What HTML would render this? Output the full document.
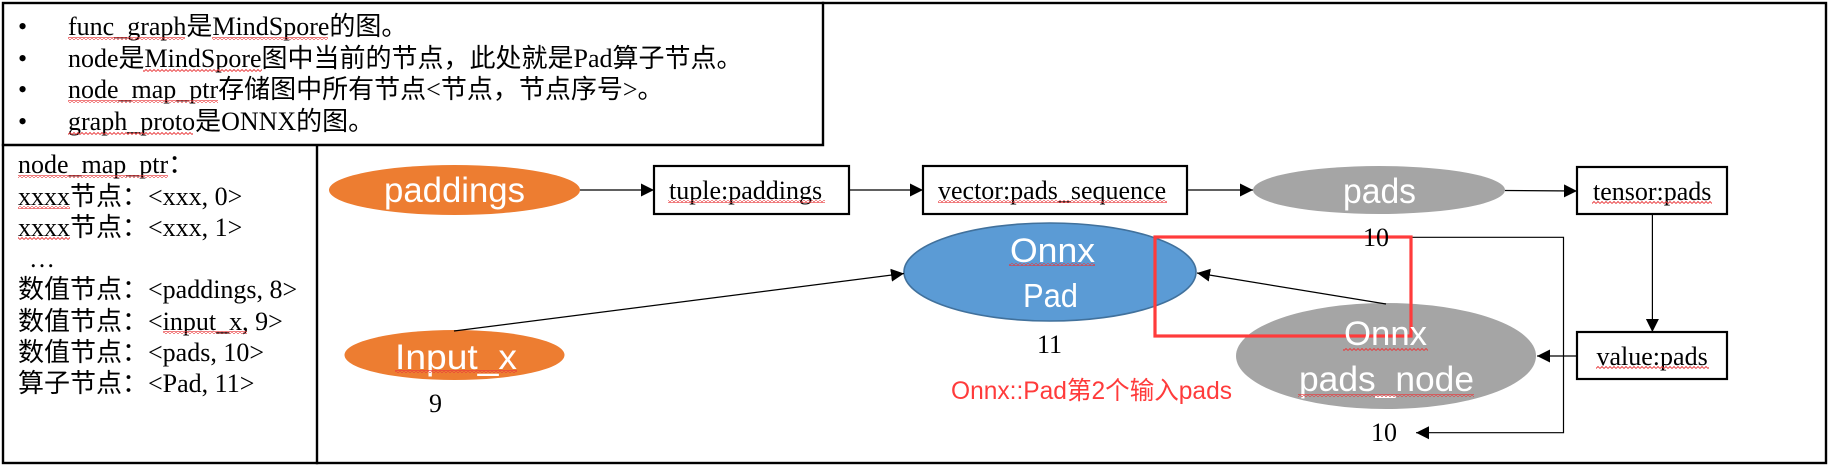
<!DOCTYPE html>
<html><head><meta charset="utf-8">
<style>
html,body{margin:0;padding:0;background:#fff;width:1830px;height:468px;overflow:hidden}
svg{display:block}
.t{font-family:"Liberation Serif","Noto Sans CJK SC",serif;font-size:26px;fill:#000}
.w{font-family:"Liberation Sans","Noto Sans CJK SC",sans-serif;fill:#fff}
</style></head><body>
<svg width="1830" height="468" viewBox="0 0 1830 468" xmlns="http://www.w3.org/2000/svg">
<defs>
<marker id="a" markerUnits="userSpaceOnUse" markerWidth="14" markerHeight="14" refX="13" refY="7" orient="auto"><path d="M0,0.5 L13,7 L0,13.5 Z" fill="#000"/></marker>
<pattern id="wv" width="4" height="3" patternUnits="userSpaceOnUse"><path d="M0,2.5 L2,0.5 L4,2.5" fill="none" stroke="#e8383a" stroke-width="0.9"/></pattern>
</defs>
<rect width="1830" height="468" fill="#fff"/>

<!-- frame -->
<g fill="none" stroke="#000" stroke-width="2.4" stroke-linecap="square">
<rect x="3" y="3" width="1823" height="460"/>
<path d="M823,3 V145 H3 M317,145 V463"/>
</g>

<!-- top list -->
<text class="t" x="18" y="35">•</text><text class="t" x="68" y="35">func_graph是MindSpore的图。</text>
<text class="t" x="18" y="67">•</text><text class="t" x="68" y="67">node是MindSpore图中当前的节点，此处就是Pad算子节点。</text>
<text class="t" x="18" y="98">•</text><text class="t" x="68" y="98">node_map_ptr存储图中所有节点&lt;节点，节点序号&gt;。</text>
<text class="t" x="18" y="130">•</text><text class="t" x="68" y="130">graph_proto是ONNX的图。</text>

<!-- left list -->
<text class="t" x="18" y="173">node_map_ptr：</text>
<text class="t" x="18" y="205">xxxx节点：&lt;xxx, 0&gt;</text>
<text class="t" x="18" y="236">xxxx节点：&lt;xxx, 1&gt;</text>
<text class="t" x="29" y="267">…</text>
<text class="t" x="18" y="298">数值节点：&lt;paddings, 8&gt;</text>
<text class="t" x="18" y="330">数值节点：&lt;input_x, 9&gt;</text>
<text class="t" x="18" y="361">数值节点：&lt;pads, 10&gt;</text>
<text class="t" x="18" y="392">算子节点：&lt;Pad, 11&gt;</text>

<!-- ellipses -->
<ellipse cx="454.5" cy="190" rx="125.5" ry="25" fill="#ed7d31"/>
<ellipse cx="454.5" cy="355" rx="110" ry="25" fill="#ed7d31"/>
<ellipse cx="1050" cy="272" rx="146" ry="49" fill="#5b9bd5" stroke="#41719c" stroke-width="1.6"/>
<ellipse cx="1379" cy="190" rx="126" ry="24" fill="#a5a5a5"/>
<ellipse cx="1386" cy="356" rx="150" ry="53" fill="#a5a5a5"/>

<!-- boxes -->
<g fill="#fff" stroke="#000" stroke-width="2.2">
<rect x="654" y="166" width="195" height="48"/>
<rect x="923" y="166" width="264" height="48"/>
<rect x="1577" y="167" width="150" height="47"/>
<rect x="1577" y="332" width="150" height="47"/>
</g>

<!-- connectors -->
<g fill="none" stroke="#000" stroke-width="1.2" marker-end="url(#a)">
<path d="M580,190 H654"/>
<path d="M849,190 H923"/>
<path d="M1187,190 H1253"/>
<path d="M1505,190.5 L1577,191"/>
<path d="M1652.4,214 V332"/>
<path d="M1577,356 H1537"/>
<path d="M454,331 L904,273.5"/>
<path d="M1386,304 L1197,273"/>
<path d="M1411,237.3 H1563.5 V432.7 H1416"/>
</g>

<!-- red box -->
<rect x="1155" y="237" width="256" height="99" fill="none" stroke="#ff3b3b" stroke-width="3.2"/>

<!-- ellipse labels -->
<text class="w" x="384" y="202" font-size="35" textLength="141" lengthAdjust="spacingAndGlyphs">paddings</text>
<text class="w" x="395" y="369" font-size="35" textLength="122" lengthAdjust="spacingAndGlyphs">Input_x</text>
<text class="w" x="1010" y="262" font-size="34" textLength="85" lengthAdjust="spacingAndGlyphs">Onnx</text>
<text class="w" x="1023" y="307" font-size="33" textLength="55" lengthAdjust="spacingAndGlyphs">Pad</text>
<text class="w" x="1343" y="203" font-size="35" textLength="73" lengthAdjust="spacingAndGlyphs">pads</text>
<text class="w" x="1344" y="345" font-size="34" textLength="83" lengthAdjust="spacingAndGlyphs">Onnx</text>
<text class="w" x="1299" y="391" font-size="35" textLength="175" lengthAdjust="spacingAndGlyphs">pads_node</text>

<!-- box labels -->
<text class="t" x="669" y="199">tuple:paddings</text>
<text class="t" x="938" y="199">vector:pads_sequence</text>
<text class="t" x="1593" y="200">tensor:pads</text>
<text class="t" x="1596.5" y="365">value:pads</text>

<!-- numbers -->
<text class="t" x="429" y="412">9</text>
<text class="t" x="1037" y="353">11</text>
<text class="t" x="1363" y="246">10</text>
<text class="t" x="1371" y="441">10</text>

<text x="951" y="399" font-family="'Liberation Sans','Noto Sans CJK SC',sans-serif" font-size="25" fill="#ff3b3b" textLength="281" lengthAdjust="spacingAndGlyphs">Onnx::Pad第2个输入pads</text>

<!-- spell-check underlines -->
<g fill="url(#wv)">
<rect x="68" y="37" width="117" height="3"/>
<rect x="212" y="37" width="116" height="3"/>
<rect x="143" y="69" width="119" height="3"/>
<rect x="68" y="100" width="150" height="3"/>
<rect x="68" y="132" width="125" height="3"/>
<rect x="18" y="175" width="150" height="3"/>
<rect x="18" y="206" width="52" height="3"/>
<rect x="18" y="237" width="52" height="3"/>
<rect x="163" y="331" width="84" height="3"/>
<rect x="395" y="370" width="122" height="3"/>
<rect x="668" y="200" width="157" height="3"/>
<rect x="938" y="200" width="229" height="3"/>
<rect x="1009" y="263" width="86" height="3"/>
<rect x="1592" y="201" width="120" height="3"/>
<rect x="1596" y="366" width="113" height="3"/>
<rect x="1343" y="348" width="85" height="3"/>
<rect x="1298" y="394" width="176" height="3"/>
</g>
</svg>
</body></html>
